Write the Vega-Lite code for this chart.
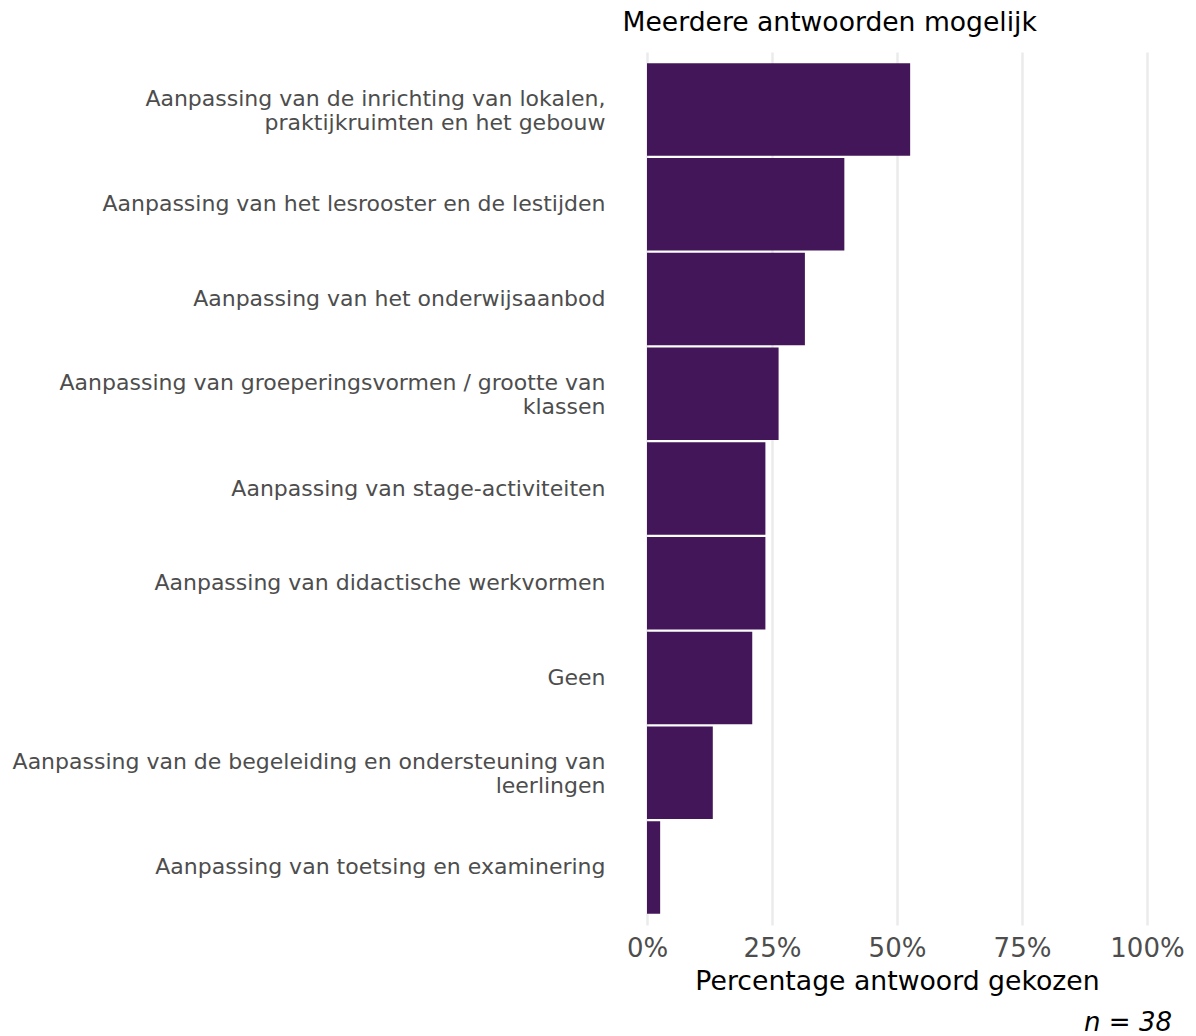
{
  "$schema": "https://vega.github.io/schema/vega-lite/v6.json",
  "autosize": {"type": "none"},
  "width": 550,
  "height": 873,
  "padding": {"left": 622, "top": 52, "right": 24, "bottom": 111},
  "background": "white",
  "config": {
    "font": "DejaVu Sans",
    "view": {"stroke": null}
  },
  "title": {
    "text": "n = 38",
    "orient": "bottom",
    "anchor": "end",
    "frame": "group",
    "fontStyle": "italic",
    "fontWeight": "normal",
    "fontSize": 26,
    "color": "black",
    "offset": 15
  },
  "data": {
    "values": [
      {"antwoord": "Aanpassing van de inrichting van lokalen,|praktijkruimten en het gebouw", "percentage": 52.63},
      {"antwoord": "Aanpassing van het lesrooster en de lestijden", "percentage": 39.47},
      {"antwoord": "Aanpassing van het onderwijsaanbod", "percentage": 31.58},
      {"antwoord": "Aanpassing van groeperingsvormen / grootte van|klassen", "percentage": 26.32},
      {"antwoord": "Aanpassing van stage-activiteiten", "percentage": 23.68},
      {"antwoord": "Aanpassing van didactische werkvormen", "percentage": 23.68},
      {"antwoord": "Geen", "percentage": 21.05},
      {"antwoord": "Aanpassing van de begeleiding en ondersteuning van|leerlingen", "percentage": 13.16},
      {"antwoord": "Aanpassing van toetsing en examinering", "percentage": 2.63}
    ]
  },
  "encoding": {
    "y": {
      "field": "antwoord",
      "type": "nominal",
      "sort": null,
      "scale": {"paddingInner": 0.025, "paddingOuter": 0.12},
      "axis": {
        "title": null,
        "labelExpr": "split(datum.label, '|')",
        "labelFontSize": 22,
        "labelColor": "#4D4D4D",
        "labelPadding": 17,
        "labelLimit": 0,
        "labelLineHeight": 24,
        "labelOffset": {"condition": {"test": "indexof(datum.value, '|') >= 0", "value": -11}, "value": 0},
        "ticks": false,
        "domain": false,
        "grid": false
      }
    }
  },
  "layer": [
    {
      "mark": {"type": "bar", "color": "#43165A"},
      "encoding": {
        "x": {
          "field": "percentage",
          "type": "quantitative",
          "scale": {"domain": [-5, 105], "nice": false, "zero": false},
          "axis": {
            "orient": "bottom",
            "title": "Percentage antwoord gekozen",
            "titleFontSize": 26.7,
            "titleFontWeight": "normal",
            "titleColor": "black",
            "titlePadding": 7,
            "values": [0, 25, 50, 75, 100],
            "labelExpr": "datum.value + '%'",
            "labelFontSize": 26,
            "labelColor": "#4D4D4D",
            "labelPadding": 10,
            "ticks": false,
            "domain": false,
            "grid": true,
            "gridColor": "#EBEBEB",
            "gridWidth": 2.5
          }
        }
      }
    },
    {
      "mark": {"type": "bar", "opacity": 0},
      "encoding": {
        "x": {
          "field": "percentage",
          "type": "quantitative",
          "axis": {
            "orient": "top",
            "title": "Meerdere antwoorden mogelijk",
            "titleAnchor": "start",
            "titleAlign": "left",
            "titleFontSize": 26.6,
            "titleFontWeight": "normal",
            "titleColor": "black",
            "titlePadding": 16,
            "labels": false,
            "ticks": false,
            "domain": false,
            "grid": false
          }
        }
      }
    }
  ],
  "resolve": {"axis": {"x": "independent"}}
}
